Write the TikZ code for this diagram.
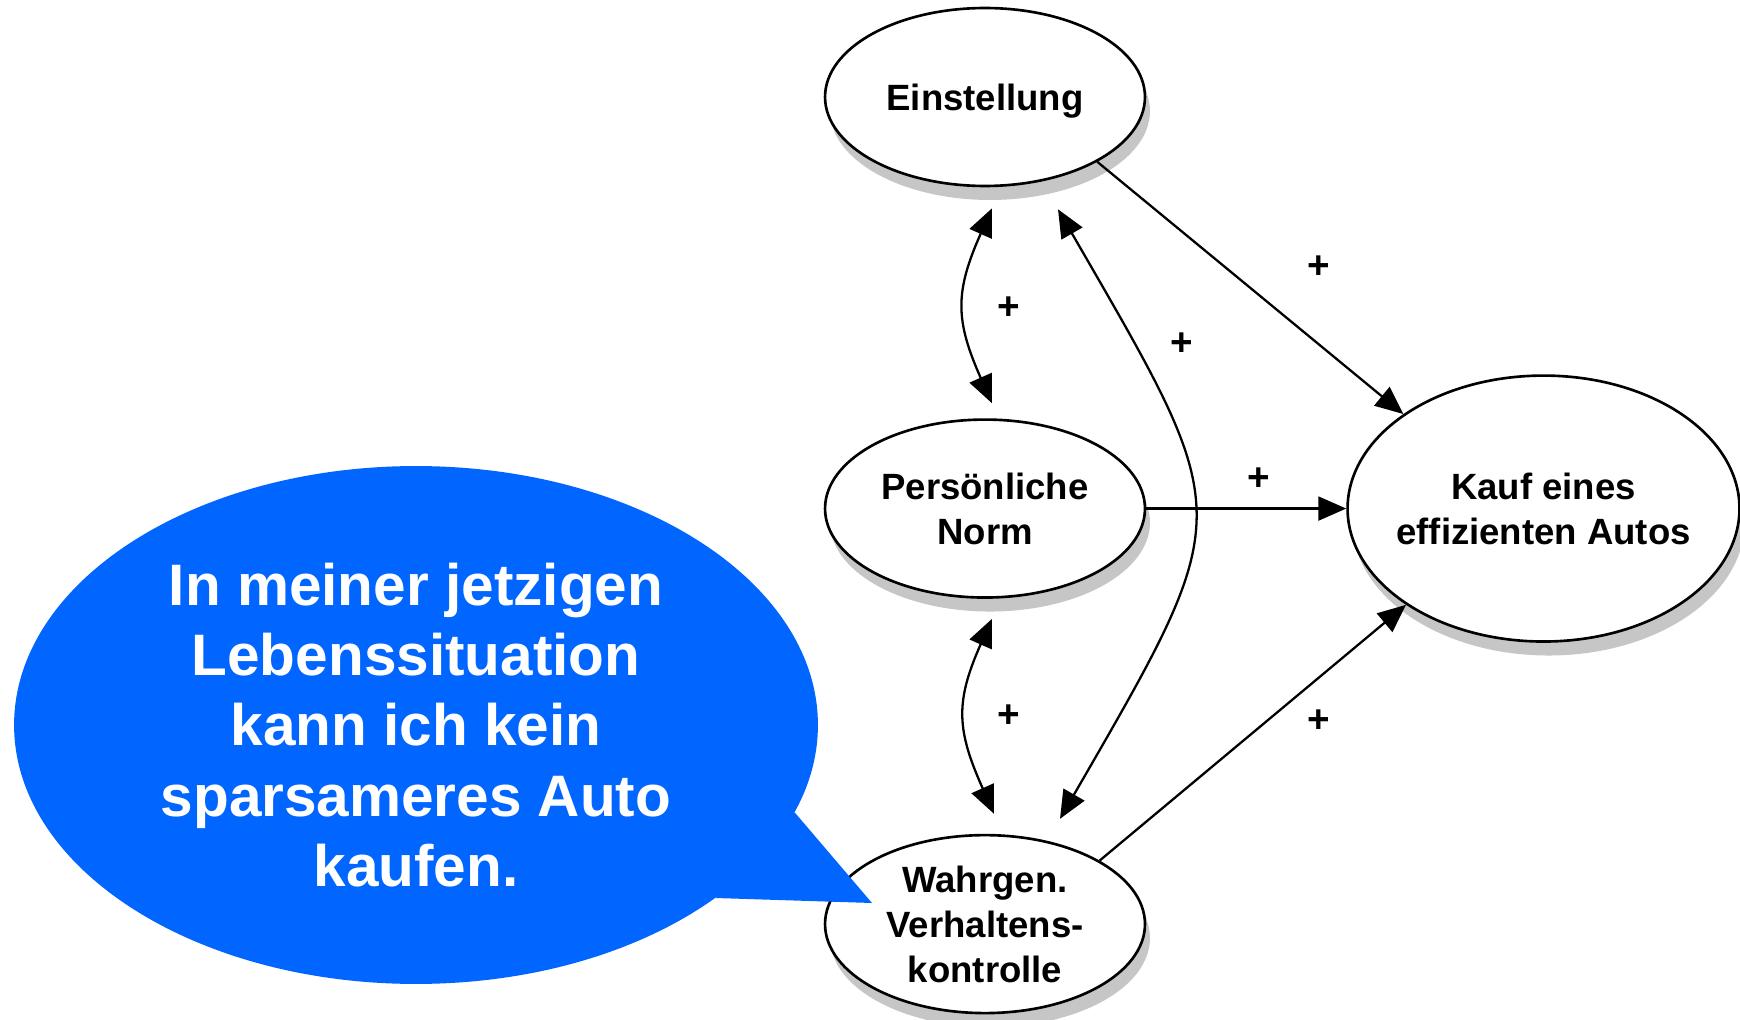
\documentclass[tikz,border=0pt]{standalone}
\usepackage{fontspec}
\setmainfont{Liberation Sans}
\usetikzlibrary{positioning, arrows.meta, shapes.geometric, shadows}
\definecolor{bubbleblue}{RGB}{0,102,255}

\begin{document}
\begin{tikzpicture}[
  x=0.02cm, y=0.02cm,
  >={Triangle[length=0.56cm, width=0.48cm]},
  construct/.style={ellipse, draw, line width=1.5pt, fill=white,
    minimum width=6.4cm, minimum height=3.56cm, inner sep=-0.3cm, align=center,
    font=\fontsize{20.8}{25.6}\selectfont\bfseries,
    general shadow={fill=gray!45, shadow xshift=0.1cm, shadow yshift=-0.28cm}},
  effect/.style={draw, line width=1.3pt, ->},
  mutual/.style={draw, line width=1.3pt, <->},
  plussign/.style={inner sep=0pt, font=\fontsize{22}{26}\selectfont\bfseries},
  bubble/.style={ellipse, fill=bubbleblue, text=white, minimum width=16.08cm,
    minimum height=10.36cm, inner sep=0pt, align=center,
    font=\fontsize{33.3}{40.1}\selectfont\bfseries}
]
\useasboundingbox (0,0) rectangle (1740,-1020);

\node[construct, text depth=0pt] (einst) at (985,-97) {Einstellung};
\node[construct, below=4.62cm of einst] (norm) {Persönliche\\Norm};
\node[construct, below=4.7cm of norm] (wahr) {Wahrgen.\\Verhaltens-\\kontrolle};
\node[construct, right=4cm of norm, minimum width=7.84cm, minimum height=5.32cm] (kauf)
  {Kauf eines\\effizienten Autos};

% effects on the purchase
\draw[effect] (einst.-30) -- (kauf.146);
\draw[effect] (norm.east) -- (kauf.west);
\draw[effect] (wahr.29) -- (kauf.215);

% correlations
\draw[mutual] ([shift={(7,-21)}]einst.south) to[out=-114, in=114, looseness=1.2] ([shift={(7,15)}]norm.north);
\draw[mutual] ([shift={(7,-20)}]norm.south) to[out=-114, in=114, looseness=1.2] ([shift={(9,20)}]wahr.north);
\draw[mutual] ([shift={(73,-22)}]einst.south) to[out=-60, in=60, looseness=1.5] ([shift={(75,15)}]wahr.north);

\node[plussign] (p1) at (1009,-308) {+};
\node[plussign] (p2) at (1182,-344) {+};
\node[plussign] (p3) at (1319,-267) {+};
\node[plussign] (p4) at (1259,-479) {+};
\node[plussign] (p5) at (1009,-716) {+};
\node[plussign] (p6) at (1319,-721) {+};

% speech bubble
\node[bubble] (speech) at (416,-725)
  {In meiner jetzigen\\Lebenssituation\\kann ich kein\\sparsameres Auto\\kaufen.};
\coordinate (tailtip) at (872,-903);
\fill[bubbleblue] (speech.-13) -- (tailtip) -- (speech.-30) -- cycle;

\end{tikzpicture}
\end{document}
